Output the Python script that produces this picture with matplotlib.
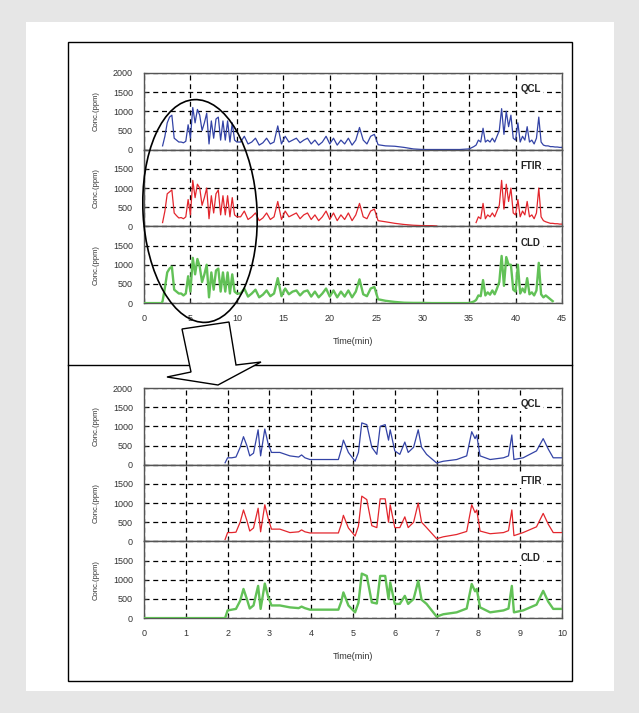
import numpy as np
import matplotlib
matplotlib.use('Agg')
import matplotlib.pyplot as plt
from matplotlib.patches import Ellipse, Polygon, Rectangle

plt.rcParams['font.family'] = ['Liberation Sans', 'DejaVu Sans']

nan = np.nan

# ---- top panel: whole run, 0-45 min ----
t_top = [0.0, 1.9,
         2.0, 2.25, 2.5, 2.75, 3.0, 3.25, 3.5, 3.75, 4.0, 4.25, 4.5, 4.75,
         5.0, 5.25, 5.5, 5.75, 6.0, 6.25, 6.5, 6.75, 7.0, 7.25, 7.5, 7.75,
         8.0, 8.25, 8.5, 8.75, 9.0, 9.25, 9.5, 9.75, 10.0,
         10.4, 10.8, 11.2, 11.6, 12.0, 12.4, 12.8, 13.2, 13.6, 14.0, 14.4, 14.8,
         15.2, 15.6, 16.0, 16.4, 16.8, 17.2, 17.6, 18.0, 18.4, 18.8, 19.2, 19.6,
         20.0, 20.4, 20.8, 21.2, 21.6, 22.0, 22.4, 22.8, 23.2, 23.6, 24.0, 24.4, 24.8,
         25.2, 26.0, 27.0, 28.0, 29.0, 30.0, 31.0, 31.5, 32.0, 33.0, 34.0, 35.0, 35.5,
         35.75, 36.0, 36.25, 36.5, 36.75, 37.0, 37.25, 37.5, 37.75, 38.0, 38.25, 38.5,
         38.75, 39.0, 39.25, 39.5, 39.75, 40.0, 40.25, 40.5, 40.75, 41.0, 41.25, 41.5,
         41.75, 42.0, 42.25, 42.5, 42.75, 43.0, 43.25, 43.5, 43.75, 44.0, 44.25, 44.5,
         44.75, 45.0]

qcl_top = [nan, nan,
           100, 350, 700, 850, 900, 300, 250, 200, 200, 180, 220, 650,
           300, 1100, 700, 1050, 900, 500, 700, 950, 150, 750, 300, 800,
           850, 250, 750, 250, 750, 200, 700, 250, 200,
           200, 350, 150, 200, 300, 120, 180, 300, 150, 200, 620, 150,
           350, 200, 250, 300, 180, 250, 300, 150, 250, 120, 200, 350,
           150, 300, 120, 250, 150, 300, 120, 250, 580, 250, 150, 350, 400,
           130, 100, 90, 60, 20, 5, 5, 5, 5, 5, 5, 20, 80,
           120, 250, 200, 560, 200, 250, 200, 300, 200, 350, 500, 1070,
           400, 1000, 600, 900, 300, 250, 700, 200, 350, 250, 600, 200,
           250, 150, 300, 850, 200, 120, 100, 100, 80, 80, 70, 70,
           60, 60]

ftir_top = [nan, nan,
            100, 400, 850, 900, 950, 350, 280, 220, 230, 200, 250, 700,
            300, 1200, 750, 1100, 1000, 550, 750, 1000, 200, 800, 350, 850,
            950, 300, 800, 300, 800, 250, 750, 300, 250,
            250, 400, 180, 250, 350, 150, 220, 350, 180, 250, 650, 180,
            400, 250, 300, 350, 200, 300, 350, 180, 300, 150, 250, 400,
            180, 350, 150, 300, 180, 350, 150, 300, 600, 250, 200, 400, 450,
            150, 120, 80, 50, 30, 20, 20, 10, nan, nan, nan, nan, nan,
            100, 250, 200, 600, 200, 300, 250, 350, 250, 400, 550, 1200,
            450, 1100, 650, 1000, 350, 300, 700, 250, 400, 300, 650, 250,
            300, 200, 350, 1000, 250, 150, 120, 100, 80, 80, 70, 70,
            60, 60]

cld_top = [0, 0,
           50, 400, 800, 900, 950, 350, 300, 250, 250, 200, 250, 700,
           300, 1180, 750, 1150, 950, 550, 750, 1000, 150, 800, 350, 850,
           900, 300, 800, 300, 800, 250, 750, 300, 250,
           250, 380, 170, 250, 350, 150, 220, 330, 180, 250, 650, 180,
           380, 230, 300, 330, 200, 300, 330, 170, 300, 150, 250, 380,
           170, 330, 150, 300, 170, 330, 150, 300, 620, 230, 180, 380, 420,
           100, 60, 30, 10, 5, 5, 0, 0, 0, 0, 0, 0, 40,
           80, 200, 180, 600, 200, 280, 220, 330, 230, 380, 550, 1230,
           450, 1200, 1000, 1000, 350, 300, 1000, 250, 380, 280, 650, 230,
           280, 200, 330, 1050, 230, 150, 200, 150, 100, 50, nan, nan,
           nan, nan]

# ---- bottom panel: first 10 min ----
t_bot = [0.0, 1.94, 2.0, 2.1, 2.2, 2.3, 2.38, 2.46, 2.53, 2.62, 2.73, 2.79,
         2.89, 2.97, 3.05, 3.25, 3.49, 3.7, 3.77, 3.85, 3.97, 4.3, 4.65, 4.72,
         4.77, 4.89, 5.05, 5.13, 5.21, 5.33, 5.45, 5.57, 5.65, 5.77, 5.85, 5.89,
         6.0, 6.12, 6.24, 6.32, 6.45, 6.56, 6.64, 6.76, 7.0, 7.16, 7.48, 7.72,
         7.84, 7.92, 7.96, 8.04, 8.28, 8.6, 8.72, 8.8, 8.85, 9.07, 9.39, 9.55,
         9.67, 9.79, 10.0]

qcl_bot = [nan, 50, 180, 180, 200, 450, 730, 500, 230, 300, 910, 230,
           930, 545, 320, 320, 230, 200, 255, 180, 135, 135, 135, 400,
           640, 320, 90, 320, 1090, 1045, 455, 270, 1000, 1045, 640, 910,
           360, 270, 590, 320, 455, 910, 455, 270, 45, 90, 135, 230,
           860, 680, 775, 230, 135, 180, 230, 775, 135, 180, 360, 680,
           410, 180, 180]

ftir_bot = [nan, 50, 230, 230, 240, 500, 820, 550, 270, 350, 865, 250,
            955, 600, 320, 320, 230, 250, 300, 250, 220, 220, 220, 450,
            680, 350, 140, 400, 1180, 1090, 410, 360, 1110, 1110, 500, 955,
            360, 360, 640, 360, 500, 1000, 500, 360, 70, 120, 180, 260,
            955, 750, 820, 270, 200, 230, 280, 820, 150, 230, 380, 730,
            450, 230, 230]

cld_bot = [0, 0, 200, 220, 240, 450, 760, 500, 250, 330, 840, 240,
           900, 560, 330, 330, 280, 260, 300, 260, 220, 220, 220, 430,
           670, 330, 150, 400, 1160, 1100, 410, 380, 1100, 1100, 500, 930,
           370, 370, 580, 370, 500, 970, 480, 370, 40, 100, 150, 250,
           890, 700, 760, 280, 150, 200, 250, 840, 150, 200, 350, 710,
           430, 240, 240]

names = ['QCL', 'FTIR', 'CLD']
colors = ['#3343a6', '#e3262d', '#62c157']
widths = [0.9, 0.9, 1.7]
yticks = [0, 500, 1000, 1500, 2000]

W, H = 639, 713


def panel(fig, top_px, t, series, xmax, xstep):
    h = 76.7
    for i, vals in enumerate(series):
        y0 = top_px + i * h
        ax = fig.add_axes([144 / W, 1 - (y0 + h) / H, 418 / W, h / H], zorder=2)
        ax.plot(t, vals, color=colors[i], lw=widths[i], zorder=3)
        ax.set_xlim(0, xmax)
        ax.set_ylim(0, 2000)
        ax.set_yticks(yticks)
        ax.set_yticklabels(['0', '500', '1000', '1500', '2000' if i == 0 else ''])
        ax.set_xticks(np.arange(0, xmax + 0.01, xstep))
        ax.grid(True, color='black', linestyle=(0, (4, 3)), lw=0.9)
        ax.tick_params(labelsize=6.5, colors='#333333', direction='in',
                       length=2.5, pad=8)
        for s in ax.spines.values():
            s.set_color('#555555')
            s.set_linewidth(1.0)
        ax.set_ylabel('Conc.(ppm)', fontsize=5.5, color='#333333')
        ax.yaxis.set_label_coords(-0.105, 0.5)
        ax.text(0.925 * xmax, 1580, names[i], fontsize=7, fontweight='bold',
                ha='center', va='center', color='#222222', zorder=4,
                bbox=dict(facecolor='white', edgecolor='none', pad=1.5))
        if i < 2:
            ax.tick_params(labelbottom=False)
        else:
            ax.set_xlabel('Time(min)', fontsize=6.5, color='#333333', labelpad=10)


fig = plt.figure(figsize=(W / 100, H / 100), dpi=100)
fig.patch.set_facecolor('#e6e6e6')

# background frame
bg = fig.add_axes([0, 0, 1, 1], zorder=0)
bg.set_xlim(0, W)
bg.set_ylim(H, 0)
bg.axis('off')
bg.add_patch(Rectangle((26, 22), 588, 669, facecolor='white', edgecolor='none'))
bg.add_patch(Rectangle((68, 42), 504, 639, facecolor='none', edgecolor='black', lw=1.0))
bg.plot([68, 572], [365, 365], color='black', lw=1.0)

panel(fig, 73, t_top, [qcl_top, ftir_top, cld_top], 45, 5)
panel(fig, 388, t_bot, [qcl_bot, ftir_bot, cld_bot], 10, 1)

# ellipse and block arrow (zoom callout)
ov = fig.add_axes([0, 0, 1, 1], zorder=5)
ov.set_xlim(0, W)
ov.set_ylim(H, 0)
ov.axis('off')
ov.patch.set_visible(False)
ov.add_patch(Ellipse((200, 211), 114, 223, angle=-3, facecolor='none',
                     edgecolor='black', lw=1.2))
arrow = [(182, 329), (229, 322), (236, 365), (261, 362), (218, 385),
         (167, 377), (191, 372)]
ov.add_patch(Polygon(arrow, closed=True, facecolor='white', edgecolor='black', lw=1.0))

fig.savefig('out.png', dpi=100, facecolor=fig.get_facecolor())
